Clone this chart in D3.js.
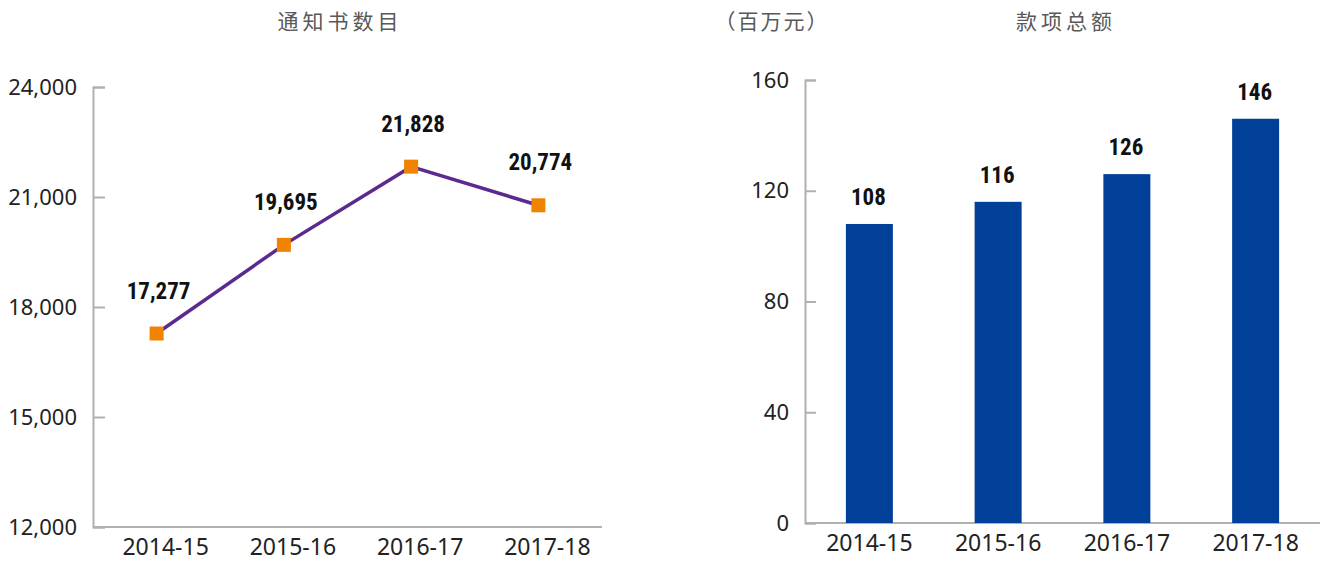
<!DOCTYPE html>
<html lang="zh">
    <head>
        <meta charset="utf-8">
        <title>notices_and_amounts</title>
        <script type="text/javascript" src="https://cdn.jsdelivr.net/npm/d3@7"></script>
        <style>
            body { margin: 0; background: #fff; }
            .tick text { font-family: "Noto Sans", "Open Sans", sans-serif; font-size: 22px; fill: #222; }
            .xaxis .tick text { font-size: 23px; }
            .value { font-family: "Liberation Sans Narrow", "Roboto Condensed", "Arial Narrow", sans-serif; font-weight: bold; font-size: 23px; fill: #111; }
            .title { font-family: "Noto Sans CJK SC", sans-serif; font-size: 21px; fill: #595959; letter-spacing: 4px; }
        </style>
    </head>

    <body>
        <script type="text/javascript">
        var w = 1320;
        var h = 562;

        // shared categories
        var years = ["2014-15", "2015-16", "2016-17", "2017-18"];

        // left chart: number of notices
        var notices = [17277, 19695, 21828, 20774];
        var noticeTicks = [12000, 15000, 18000, 21000, 24000];

        // right chart: amounts (million yuan)
        var amounts = [108, 116, 126, 146];
        var amountTicks = [0, 40, 80, 120, 160];

        var fmt = d3.format(",");

        var svg = d3.select("body")
                    .append("svg")
                    .attr("width", w)
                    .attr("height", h);

        // ---------- left: line chart ----------
        var lx = d3.scaleBand().domain(years).range([93, 602]).padding(0);
        var ly = d3.scaleLinear().domain([12000, 24000]).range([527, 87]);

        var lyAxis = d3.axisRight(ly).tickValues(noticeTicks).tickFormat(fmt).tickSize(12);
        var lxAxis = d3.axisBottom(lx).tickSize(0).tickPadding(10);

        var gly = svg.append("g")
            .attr("class", "axis")
            .attr("transform", "translate(93,0)")
            .call(lyAxis);
        gly.selectAll("text").attr("x", -16).attr("text-anchor", "end");

        var glx = svg.append("g")
            .attr("class", "axis xaxis")
            .attr("transform", "translate(0,527)")
            .call(lxAxis);
        // category labels sit a little right of the points in the original
        glx.selectAll(".tick text").attr("x", 9);

        // ---------- right: bar chart ----------
        var rx = d3.scaleBand().domain(years).range([805, 1320]).padding(0);
        var ry = d3.scaleLinear().domain([0, 160]).range([523, 80]);

        var ryAxis = d3.axisRight(ry).tickValues(amountTicks).tickSize(11);
        var rxAxis = d3.axisBottom(rx).tickSize(0).tickPadding(10);

        var gry = svg.append("g")
            .attr("class", "axis")
            .attr("transform", "translate(805,0)")
            .call(ryAxis);
        gry.selectAll("text").attr("x", -16).attr("text-anchor", "end");

        var grx = svg.append("g")
            .attr("class", "axis xaxis")
            .attr("transform", "translate(0,523)")
            .call(rxAxis);

        // axis styling
        svg.selectAll(".axis .domain").attr("stroke", "#b0b0b0").attr("stroke-width", 2);
        svg.selectAll(".axis line").attr("stroke", "#b0b0b0").attr("stroke-width", 2);
        glx.selectAll("text").attr("dy", "0.8em");
        grx.selectAll("text").attr("dy", "0.8em");
        // baselines: plain lines, no end caps
        glx.select(".domain").attr("d", "M93,0H602");
        grx.select(".domain").attr("d", "M805,0H1320");

        // line
        var line = d3.line()
            .x(function(d, i){ return lx(years[i]) + lx.bandwidth() / 2; })
            .y(function(d){ return ly(d); });

        svg.append("path")
            .datum(notices)
            .attr("d", line)
            .attr("fill", "none")
            .attr("stroke", "#5c2a8e")
            .attr("stroke-width", 3.5);

        svg.selectAll("rect.marker")
            .data(notices)
            .enter()
            .append("rect")
            .attr("class", "marker")
            .attr("x", function(d, i){ return lx(years[i]) + lx.bandwidth() / 2 - 7; })
            .attr("y", function(d){ return ly(d) - 7; })
            .attr("width", 14)
            .attr("height", 14)
            .attr("fill", "#f08300");

        svg.selectAll("text.lval")
            .data(notices)
            .enter()
            .append("text")
            .attr("class", "value")
            .attr("text-anchor", "middle")
            .attr("x", function(d, i){ return lx(years[i]) + lx.bandwidth() / 2 + 2; })
            .attr("y", function(d){ return ly(d) - 35; })
            .text(function(d){ return fmt(d); });

        // bars
        var barW = 47;
        svg.selectAll("rect.bar")
            .data(amounts)
            .enter()
            .append("rect")
            .attr("class", "bar")
            .attr("x", function(d, i){ return rx(years[i]) + rx.bandwidth() / 2 - barW / 2; })
            .attr("y", function(d){ return ry(d); })
            .attr("width", barW)
            .attr("height", function(d){ return ry(0) - ry(d); })
            .attr("fill", "#004098");

        svg.selectAll("text.rval")
            .data(amounts)
            .enter()
            .append("text")
            .attr("class", "value")
            .attr("text-anchor", "middle")
            .attr("x", function(d, i){ return rx(years[i]) + rx.bandwidth() / 2 - 1; })
            .attr("y", function(d){ return ry(d) - 19; })
            .text(function(d){ return d; });

        // titles
        svg.append("text").attr("class", "title")
            .attr("x", 340).attr("y", 29).attr("text-anchor", "middle")
            .text("通知书数目");
        svg.append("text").attr("class", "title")
            .attr("x", 1066).attr("y", 29).attr("text-anchor", "middle")
            .text("款项总额");
        svg.append("text").attr("class", "title")
            .attr("x", 772).attr("y", 29).attr("text-anchor", "middle")
            .style("letter-spacing", "2px")
            .text("（百万元）");
        </script>
    </body>
</html>
